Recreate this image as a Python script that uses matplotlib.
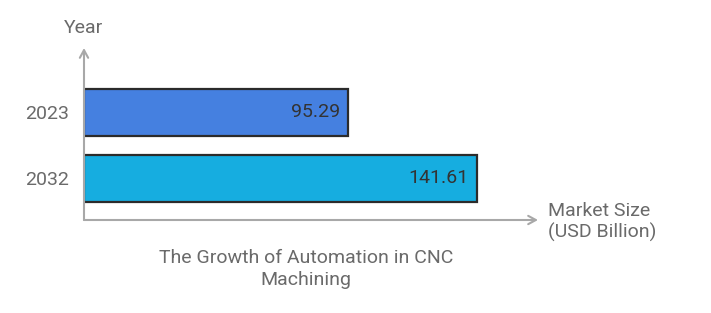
import matplotlib.pyplot as plt

years = ["2023", "2032"]
market_size = [95.29, 141.61]
bar_colors = ["#4580e0", "#16ade0"]

plt.rcParams['font.family'] = ['Roboto', 'DejaVu Sans']

fig = plt.figure(figsize=(7.11, 3.13), dpi=100)
W, H = 711, 313
# axes spans from the origin (84, 220) to the arrow tips (538, 48) in pixels
ax = fig.add_axes([84 / W, (H - 220) / H, (538 - 84) / W, (220 - 48) / H])

pos = list(range(len(years)))
ax.barh(pos, market_size, height=0.712, color=bar_colors, edgecolor="#2b2b2b", linewidth=1.6)
ax.set_xlim(0, (538 - 84) / 2.775)
ax.set_ylim(1.629, -0.977)

for p, v in zip(pos, market_size):
    ax.annotate(f"{v:.2f}", (v, p), xytext=(-6, 0), textcoords="offset points",
                ha="right", va="center", fontsize=14, color="#333333")

ax.set_yticks(pos)
ax.set_yticklabels(years, fontsize=14, color="#6a6a6a")
ax.tick_params(axis="y", length=0, pad=11)
ax.set_xticks([])
for s in ax.spines.values():
    s.set_visible(False)

grey = "#a8a8a8"
ax.annotate("", xy=(0, 1), xytext=(0, 0), xycoords="axes fraction",
            arrowprops=dict(arrowstyle="->,head_length=0.55,head_width=0.3", color=grey, lw=1.5,
                            shrinkA=0, shrinkB=0))
ax.annotate("", xy=(1, 0), xytext=(0, 0), xycoords="axes fraction",
            arrowprops=dict(arrowstyle="->,head_length=0.55,head_width=0.3", color=grey, lw=1.5,
                            shrinkA=0, shrinkB=0))

fig.text(84 / W, (H - 28) / H, "Year", ha="center", va="center", fontsize=14, color="#6a6a6a")
fig.text(548 / W, (H - 222) / H, "Market Size\n(USD Billion)", ha="left", va="center",
         fontsize=14, color="#6a6a6a", linespacing=1.2)
fig.text(306 / W, (H - 269) / H, "The Growth of Automation in CNC\nMachining", ha="center",
         va="center", fontsize=14, color="#6a6a6a", linespacing=1.3)

fig.savefig("out.png", dpi=100)
